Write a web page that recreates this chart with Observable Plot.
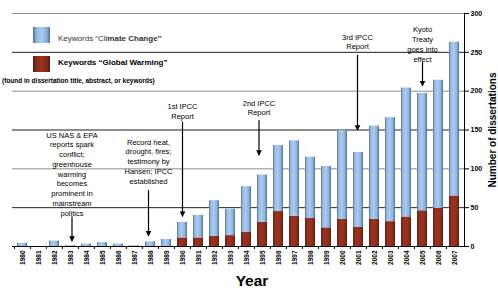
<!DOCTYPE html>
<html><head><meta charset="utf-8">
<script src="https://cdn.jsdelivr.net/npm/d3@7"></script>
<script src="https://cdn.jsdelivr.net/npm/@observablehq/plot@0.6"></script>
<style>
html,body{margin:0;padding:0;background:#fff;overflow:hidden}
#wrap{position:relative;width:498px;height:291px;font-family:"Liberation Sans",Arial,sans-serif}
.leg{position:absolute;white-space:nowrap;line-height:1;color:#000;font-family:"Liberation Sans",Arial,sans-serif}
.sw{position:absolute;width:17px;height:16px}
</style></head><body><div id="wrap"></div>
<script>
// ---- data ----
const years = ["1980","1981","1982","1983","1984","1985","1986","1987","1988","1989",
  "1990","1991","1992","1993","1994","1995","1996","1997","1998","1999",
  "2000","2001","2002","2003","2004","2005","2006","2007"];
// "Climate Change" segment (stacked on top)
const climateChange = [4,0,7,1,3,5,3,1,6,9,20,29,46,34,59,61,85,97,79,79,114,96,120,134,166,151,165,198];
// "Global Warming" segment (bottom)
const globalWarming = [0,0,0,0,0,0,0,0,0,0,11,11,13,14,18,31,45,39,36,24,35,25,35,32,38,46,49,65];
const seriesNames = ["Global Warming","Climate Change"];
const yTicks = [0,50,100,150,200,250,300];
const gridDark = [50,150,250];
const gridLight = [100,200,300];

const annoYears = ["1983","1988","1990","1995","2001","2005"];
const annoTexts = [
  "US NAS & EPA\nreports spark\nconflict;\ngreenhouse\nwarming\nbecomes\nprominent in\nmainstream\npolitics",
  "Record heat,\ndrought, fires;\ntestimony by\nHansen; IPCC\nestablished",
  "1st IPCC\nReport",
  "2nd IPCC\nReport",
  "3rd IPCC\nReport",
  "Kyoto\nTreaty\ngoes into\neffect"
];
const annoTextY = [94, 110, 175, 179, 264, 261];
const arrowFrom = [38, 72, 160, 162, 246, 237];
const arrowTo   = [6, 13, 38, 117, 149, 206];
const annoDx    = [1.5, -2, 0, -3.5, -1, 0];

// ---- layout ----
const W = 498, H = 291, mL = 12, mR = 34, mT = 13, mB = 45;
const step = (W - mL - mR) / years.length;

const rows = years.flatMap((y, i) => [
  {year: y, series: seriesNames[0], value: globalWarming[i]},
  {year: y, series: seriesNames[1], value: climateChange[i]}
]);

const downTri = {draw(ctx, size) { const h = 5.5, w = 2.8; ctx.moveTo(-w, -h); ctx.lineTo(w, -h); ctx.lineTo(0, 0); ctx.closePath(); }};

const annoMarks = annoYears.flatMap((yr, i) => {
  const d = [{year: yr, text: annoTexts[i], ty: annoTextY[i], from: arrowFrom[i], to: arrowTo[i]}];
  return [
    Plot.ruleX(d, {x: "year", y1: "from", y2: "to", stroke: "#000", strokeWidth: 1.2, dx: annoDx[i]}),
    Plot.dot(d, {x: "year", y: "to", symbol: downTri, r: 3, fill: "#000", stroke: "none", dx: annoDx[i]}),
    Plot.text(d, {x: "year", y: "ty", text: "text", dx: annoDx[i], fontSize: 7.5, lineHeight: 1.3, fill: "#000", ariaLabel: "anno", textAnchor: "middle", lineAnchor: "middle"})
  ];
});

const svg = Plot.plot({
  width: W, height: H, marginLeft: mL, marginRight: mR, marginTop: mT, marginBottom: mB,
  style: {fontFamily: '"Liberation Sans", Arial, sans-serif', background: "white", overflow: "visible"},
  x: {type: "band", domain: years, paddingInner: 0.35, paddingOuter: 0.175, axis: null, label: null},
  y: {domain: [0, 300], axis: null, label: null},
  color: {domain: seriesNames, range: ["url(#gRed)", "url(#gBlue)"]},
  marks: [
    Plot.ruleY(gridLight, {stroke: "#8c8c8c", strokeWidth: 1}),
    Plot.ruleY(gridDark, {stroke: "#1e1e1e", strokeWidth: 1}),
    Plot.barY(rows, {x: "year", y: "value", fill: "series"}),
    ...annoMarks,
    Plot.ruleY([0], {stroke: "#000", strokeWidth: 1}),
    Plot.frame({anchor: "right", stroke: "#000"}),
    Plot.axisX({tickSize: 0, tickPadding: 4, tickRotate: -90, fontSize: 6.5, fontWeight: "bold", label: null}),
    Plot.axisX({tickSize: 3, dx: -step / 2, tickFormat: () => "", label: null}),
    Plot.axisY({anchor: "right", ticks: yTicks, tickSize: 4, tickPadding: 2, fontSize: 7, fontWeight: "bold", label: null}),
    Plot.text(["Year"], {text: d => d, frameAnchor: "bottom", lineAnchor: "middle", dy: 35, dx: 13.5, fontSize: 15.5, fontWeight: "bold"}),
    Plot.text(["Number of dissertations"], {text: d => d, frameAnchor: "right", rotate: -90, dx: 28, lineAnchor: "middle", textAnchor: "middle", fontSize: 10, fontWeight: "bold"})
  ]
});

const wrap = document.getElementById("wrap");
wrap.appendChild(svg);

// gradients
const defs = d3.select(svg).insert("defs", ":first-child");
function grad(id, stops) {
  const g = defs.append("linearGradient").attr("id", id).attr("x1", "0%").attr("x2", "100%").attr("y1", "0%").attr("y2", "0%");
  stops.forEach(([o, c]) => g.append("stop").attr("offset", o).attr("stop-color", c));
}
grad("gBlue", [["0%", "#4d6d92"], ["15%", "#8fb6df"], ["45%", "#aacdef"], ["80%", "#8ab1da"], ["100%", "#4d6d92"]]);
grad("gRed", [["0%", "#571a0e"], ["15%", "#8a2d1b"], ["50%", "#993420"], ["85%", "#83291a"], ["100%", "#561a0e"]]);

// white boxes behind annotation texts
d3.select(svg).selectAll('g[aria-label="anno"] text').each(function() {
  const bb = this.getBBox();
  const padX = 4, padY = 2;
  d3.select(this.parentNode).insert("rect", () => this)
    .attr("transform", this.getAttribute("transform"))
    .attr("x", bb.x - padX).attr("y", bb.y - padY)
    .attr("width", bb.width + 2 * padX).attr("height", bb.height + 2 * padY)
    .attr("fill", "white");
});

// legend (inside plot area, top-left)
const legendItems = [
  {grad: "linear-gradient(to right,#4d6d92,#8fb6df 20%,#aacdef 50%,#8ab1da 80%,#4d6d92)", top: 27, html: 'Keywords \u201cCli<b>mate Change\u201d</b>', textTop: 35, weight: "normal", color: "#333"},
  {grad: "linear-gradient(to right,#571a0e,#8a2d1b 20%,#993420 50%,#83291a 80%,#561a0e)", top: 56, html: 'Keywords \u201cGlobal Warming\u201d', textTop: 59, weight: "bold", color: "#000"}
];
legendItems.forEach(it => {
  const sw = document.createElement("div");
  sw.className = "sw"; sw.style.left = "33px"; sw.style.top = it.top + "px"; sw.style.background = it.grad;
  wrap.appendChild(sw);
  const t = document.createElement("div");
  t.className = "leg"; t.style.left = "58px"; t.style.top = it.textTop + "px"; t.style.fontSize = "8px";
  t.style.fontWeight = it.weight; t.style.color = it.color;
  t.innerHTML = it.html;
  wrap.appendChild(t);
});
const note = document.createElement("div");
note.className = "leg"; note.style.left = "2px"; note.style.top = "77.5px"; note.style.fontSize = "6.5px"; note.style.fontWeight = "bold";
note.textContent = "(found in dissertation title, abstract, or keywords)";
wrap.appendChild(note);
</script>
</body></html>
